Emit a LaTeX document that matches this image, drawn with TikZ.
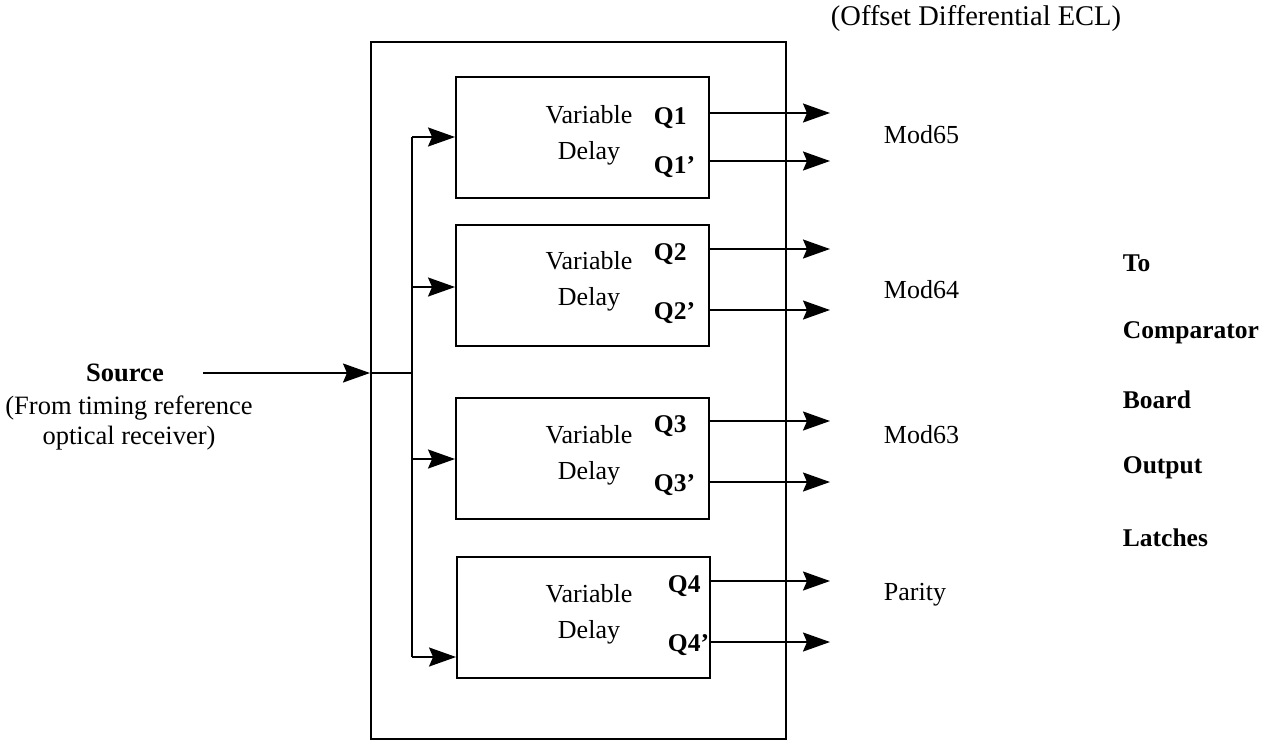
\documentclass[tikz,border=0pt]{standalone}
\usepackage{fontspec}
\setmainfont{Liberation Serif}
\usetikzlibrary{arrows.meta}
\begin{document}
\begin{tikzpicture}[x=1pt,y=-1pt, line width=1.9pt,
  >={Stealth[length=27pt,width=19pt,inset=4pt]},
  vd/.style={draw, minimum width=253pt, minimum height=121pt, inner sep=0pt},
  txt/.style={font=\fontsize{26}{36}\selectfont, inner sep=0pt},
  btxt/.style={font=\fontsize{25.5}{36}\selectfont\bfseries, inner sep=0pt},
  vdtext/.style={txt, align=center}]
\useasboundingbox (0,0) rectangle (1268,740);
% outer box
\node[draw, line width=1.6pt, minimum width=415pt, minimum height=697pt, inner sep=0pt, anchor=north west] (outer) at (370,41) {};
% delay boxes
\node[vd] (d1) at (582.5,137.5) {};
\node[vd] (d2) at (582.5,285.5) {};
\node[vd] (d3) at (582.5,458.5) {};
\node[vd] (d4) at (583.5,617.5) {};
% box texts
\node[vdtext] (t1) at (589,135) {Variable\\Delay};
\node[vdtext] (t2) at (589,281) {Variable\\Delay};
\node[vdtext] (t3) at (589,455) {Variable\\Delay};
\node[vdtext] (t4) at (589,614) {Variable\\Delay};
% Q labels
\node[btxt, anchor=west] (q1) at (653,118) {Q1};
\node[btxt, anchor=west] (q1n) at (653,167) {Q1’};
\node[btxt, anchor=west] (q2) at (653,254) {Q2};
\node[btxt, anchor=west] (q2n) at (653,313) {Q2’};
\node[btxt, anchor=west] (q3) at (653,426) {Q3};
\node[btxt, anchor=west] (q3n) at (653,485) {Q3’};
\node[btxt, anchor=west] (q4) at (667,586) {Q4};
\node[btxt, anchor=west] (q4n) at (667,645) {Q4’};
% output end coordinates
\coordinate (o1) at (830,113);
\coordinate (o1n) at (830,161);
\coordinate (o2) at (830,249);
\coordinate (o2n) at (830,310);
\coordinate (o3) at (830,421);
\coordinate (o3n) at (830,482);
\coordinate (o4) at (830,581);
\coordinate (o4n) at (830,642);
\draw[->] (d1.east |- o1) -- (o1);
\draw[->] (d1.east |- o1n) -- (o1n);
\draw[->] (d2.east |- o2) -- (o2);
\draw[->] (d2.east |- o2n) -- (o2n);
\draw[->] (d3.east |- o3) -- (o3);
\draw[->] (d3.east |- o3n) -- (o3n);
\draw[->] (d4.east |- o4) -- (o4);
\draw[->] (d4.east |- o4n) -- (o4n);
% right labels
\node[txt, anchor=west] (m65) at (883,135) {Mod65};
\node[txt, anchor=west] (m64) at (883,290) {Mod64};
\node[txt, anchor=west] (m63) at (883,435) {Mod63};
\node[txt, anchor=west] (par) at (883,595) {Parity};
\node[txt, anchor=west, font=\fontsize{28.5}{34}\selectfont] (ecl) at (830,18) {(Offset Differential ECL)};
\node[btxt, anchor=west] (to) at (1122,263) {To};
\node[btxt, anchor=west] (cmp) at (1122,333) {Comparator};
\node[btxt, anchor=west] (brd) at (1122,400) {Board};
\node[btxt, anchor=west] (outp) at (1122,468) {Output};
\node[btxt, anchor=west] (lat) at (1122,538) {Latches};
% source
\node[btxt, font=\fontsize{26.5}{36}\selectfont\bfseries] (src) at (125,373) {Source};
\node[txt, align=center, font=\fontsize{26.5}{30}\selectfont] (srcnote) at (129,423) {(From timing reference\\optical receiver)};
\coordinate (srcs) at (203,373);
\coordinate (inpt) at (outer.west |- srcs);
\coordinate (junc) at (412,373);
\coordinate (b1) at (412,137);
\coordinate (b2) at (412,287);
\coordinate (b3) at (412,459);
\coordinate (b4) at (412,657);
\draw[->] (srcs) -- (inpt);
\draw (inpt) -- (junc);
\draw (b1) -- (b4);
\draw[->] (b1) -- (d1.west |- b1);
\draw[->] (b2) -- (d2.west |- b2);
\draw[->] (b3) -- (d3.west |- b3);
\draw[->] (b4) -- (d4.west |- b4);
\end{tikzpicture}
\end{document}
